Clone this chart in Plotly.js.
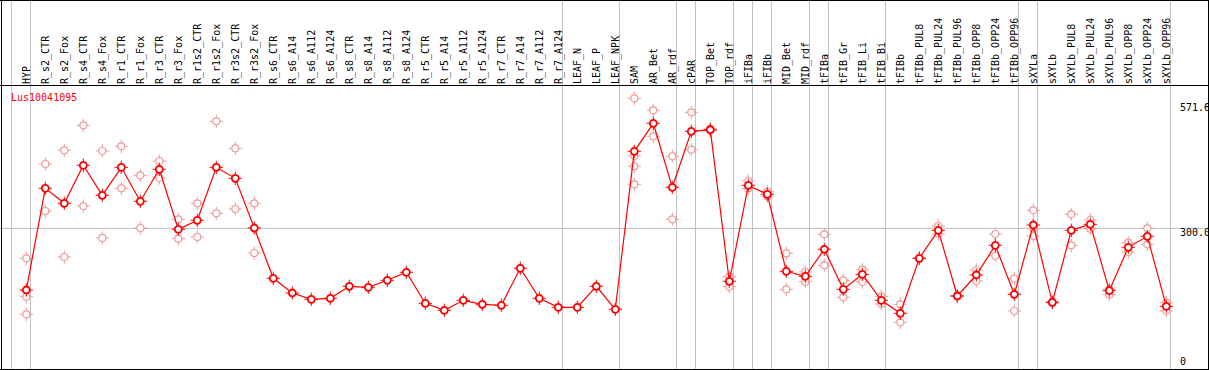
<!DOCTYPE html>
<html>
<head>
<meta charset="utf-8">
<script src="https://cdn.plot.ly/plotly-3.0.1.min.js"></script>
<style>html,body{margin:0;padding:0;background:#fff;}#chart{width:1209px;height:370px;}</style>
</head>
<body>
<div id="chart"></div>
<script>
// ---- data ----
const geneName = "Lus10041095";
const categories = ["HYP","R_s2_CTR","R_s2_Fox","R_s4_CTR","R_s4_Fox","R_r1_CTR","R_r1_Fox","R_r3_CTR","R_r3_Fox","R_r1s2_CTR","R_r1s2_Fox","R_r3s2_CTR","R_r3s2_Fox","R_s6_CTR","R_s6_A14","R_s6_A112","R_s6_A124","R_s8_CTR","R_s8_A14","R_s8_A112","R_s8_A124","R_r5_CTR","R_r5_A14","R_r5_A112","R_r5_A124","R_r7_CTR","R_r7_A14","R_r7_A112","R_r7_A124","LEAF_N","LEAF_P","LEAF_NPK","SAM","AR_Bet","AR_rdf","cPAR","TOP_Bet","TOP_rdf","iFIBa","iFIBb","MID_Bet","MID_rdf","tFIBa","tFIB_Gr","tFIB_Li","tFIB_Bi","tFIBb","tFIBb_PUL8","tFIBb_PUL24","tFIBb_PUL96","tFIBb_OPP8","tFIBb_OPP24","tFIBb_OPP96","sXYLa","sXYLb","sXYLb_PUL8","sXYLb_PUL24","sXYLb_PUL96","sXYLb_OPP8","sXYLb_OPP24","sXYLb_OPP96"];
const meanValues = [166.0,387.0,354.4,437.0,371.8,432.6,358.8,428.3,297.9,317.5,432.6,408.7,300.7,191.4,159.5,145.8,148.0,174.1,171.9,187.1,204.5,137.1,121.9,143.6,134.9,132.8,213.2,148.0,128.4,128.4,174.1,124.1,467.4,528.3,389.2,510.9,514.3,184.9,393.5,374.0,206.6,195.8,254.5,167.5,200.1,143.6,115.4,234.9,295.7,153.0,198.6,263.1,156.7,307.3,139.3,295.7,308.8,164.5,258.8,282.7,130.6];
const rep1 = [234.9,439.8,469.6,523.9,468.1,478.3,415.3,446.3,319.6,354.4,532.6,473.9,354.4,null,null,null,null,null,null,null,null,null,null,null,null,null,null,null,null,null,null,null,582.6,556.5,456.5,552.2,516.0,194.9,402.9,379.6,245.8,205.1,287.0,187.1,210.1,152.3,134.9,236.0,305.1,154.0,209.5,287.7,190.6,339.2,140.0,330.5,318.1,155.8,268.8,300.1,138.4];
const rep2 = [151.5,337.7,237.7,348.5,279.1,387.0,300.7,409.4,277.5,281.2,332.7,342.0,246.4,null,null,null,null,null,null,null,null,null,null,null,null,null,null,null,null,null,null,null,457.8,500.0,319.6,470.9,512.0,173.2,386.1,370.0,167.5,184.1,219.7,150.2,183.4,135.6,95.8,234.0,287.7,152.0,185.6,240.5,120.4,283.4,138.0,263.1,299.2,168.0,248.6,265.3,121.0];
const rep3 = [113.2,null,null,null,null,null,null,null,null,null,null,null,null,null,null,null,null,null,null,null,null,null,null,null,null,null,null,null,null,null,null,null,434.8,null,null,null,null,null,null,null,null,null,null,null,null,null,null,null,null,null,null,null,null,299.0,null,null,null,null,null,null,null];
const rep4 = [null,null,null,null,null,null,null,null,null,null,null,null,null,null,null,null,null,null,null,null,null,null,null,null,null,null,null,null,null,null,null,null,395.7,null,null,null,null,null,null,null,null,null,null,null,null,null,null,null,null,null,null,null,null,null,null,null,null,null,null,null,null];
const groupEnds = [-1,0,28,31,34,35,37,38,39,41,42,45,52,53,60];
const yTickValues = [571.6, 300.0, 0];
const yTickLabels = ["571.6", "300.0", "0"];

// ---- geometry helpers ----
const W = 1209, H = 370;
const px = x => x / W;
const py = y => 1 - y / H;
const idx = categories.map((_, i) => i);
const mono = "DejaVu Sans Mono, monospace";
const RED = "#ff0000", PINK = "#f09a9a", GRID = "#c0c0c0";

const repXs = [], repYs = [];
[rep1, rep2, rep3, rep4].forEach(r => r.forEach((v, i) => { if (v !== null) { repXs.push(i); repYs.push(v); } }));

const traces = [
  {x: repXs, y: repYs, type: "scatter", mode: "markers", hoverinfo: "skip",
   marker: {symbol: "cross-thin-open", size: 9.5, color: PINK, line: {color: PINK, width: 1}}},
  {x: repXs, y: repYs, type: "scatter", mode: "markers", hoverinfo: "skip",
   marker: {symbol: "circle", size: 7, color: "#ffffff", line: {color: PINK, width: 1.2}}},
  {x: idx, y: meanValues, type: "scatter", mode: "lines", hoverinfo: "skip",
   line: {color: RED, width: 1.2}},
  {x: idx, y: meanValues, type: "scatter", mode: "markers", hoverinfo: "skip",
   marker: {symbol: "cross-thin-open", size: 9.5, color: RED, line: {color: RED, width: 1}}},
  {x: idx, y: meanValues, type: "scatter", mode: "markers", hoverinfo: "skip",
   marker: {symbol: "circle", size: 7, color: "#ffffff", line: {color: RED, width: 1.8}}}
];

const shapes = [];
groupEnds.forEach(g => shapes.push({type: "line", xref: "x", yref: "paper", x0: g + 0.22, x1: g + 0.22, y0: 0, y1: 1, line: {color: GRID, width: 1}, layer: "below"}));
shapes.push({type: "line", xref: "paper", yref: "y", x0: 0, x1: 1, y0: 300, y1: 300, line: {color: GRID, width: 1}, layer: "below"});
shapes.push({type: "line", xref: "paper", yref: "paper", x0: 0, x1: 1, y0: py(85.5), y1: py(85.5), line: {color: "#000", width: 1}});
shapes.push({type: "line", xref: "paper", yref: "paper", x0: 0, x1: 1, y0: py(0.5), y1: py(0.5), line: {color: "#000", width: 1}});
shapes.push({type: "line", xref: "paper", yref: "paper", x0: 0, x1: 1, y0: py(369.5), y1: py(369.5), line: {color: "#000", width: 1}});
shapes.push({type: "line", xref: "paper", yref: "paper", x0: px(1.5), x1: px(1.5), y0: 0, y1: 1, line: {color: "#000", width: 1}});
shapes.push({type: "line", xref: "paper", yref: "paper", x0: px(1208.5), x1: px(1208.5), y0: 0, y1: 1, line: {color: "#000", width: 1}});

const annotations = [
  {text: geneName, xref: "paper", yref: "paper", x: px(9), y: py(97), xanchor: "left", yanchor: "middle", showarrow: false, font: {family: mono, size: 10, color: RED}}
];
yTickValues.forEach((v, k) => annotations.push({
  text: yTickLabels[k], xref: "paper", yref: "y", x: px(1177.5), y: v, xanchor: "left", yanchor: "middle",
  yshift: v === 0 ? 5 : -4, showarrow: false, font: {family: mono, size: 10, color: "#000"}
}));

const layout = {
  width: W, height: H,
  margin: {l: 0, r: 0, t: 0, b: 0},
  paper_bgcolor: "#fff", plot_bgcolor: "#fff",
  showlegend: false,
  xaxis: {type: "linear", range: [-26.3 / 19, (W - 26.3) / 19], tickmode: "array", tickvals: idx, ticktext: categories,
          side: "top", tickangle: -90, ticks: "", showgrid: false, zeroline: false, showline: false,
          tickfont: {family: mono, size: 10, color: "#000"}, fixedrange: true},
  yaxis: {range: [-5.65, 611.5], domain: [1 / H, 285 / H], showticklabels: false, showgrid: false, zeroline: false, showline: false, fixedrange: true},
  shapes: shapes,
  annotations: annotations
};

Plotly.newPlot("chart", traces, layout, {displayModeBar: false, staticPlot: true});
</script>
</body>
</html>
